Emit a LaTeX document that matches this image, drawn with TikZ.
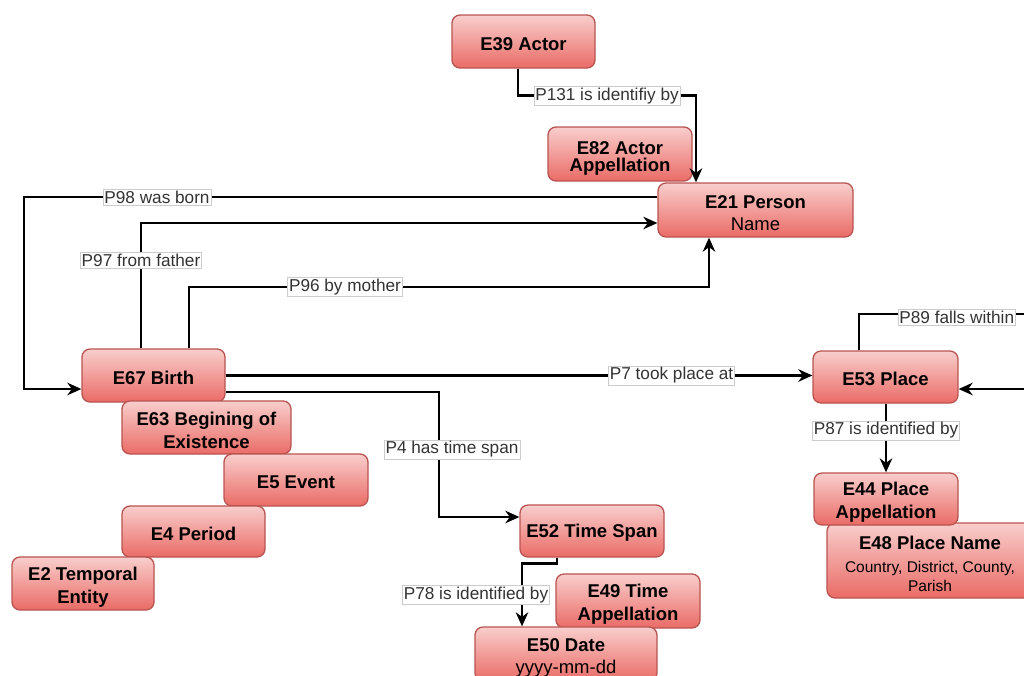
\documentclass[tikz,border=0pt]{standalone}
\usepackage{fontspec}
\setmainfont{Liberation Sans}
\usetikzlibrary{arrows.meta,calc}
\definecolor{etop}{RGB}{248,206,204}
\definecolor{ebot}{RGB}{234,107,102}
\definecolor{eline}{RGB}{184,84,80}
\newcommand\mytstrut{\rule{0pt}{20pt}}
\begin{document}
\begin{tikzpicture}[x=1pt,y=-1pt,
  ebox/.style={draw=eline, line width=1.3pt, rounded corners=8pt, top color=etop, bottom color=ebot,
    align=center, inner sep=0pt, font=\fontsize{18.5}{23}\selectfont\bfseries},
  onebox/.style={ebox, execute at begin node={\rule{0pt}{17.5pt}}},
  edge/.style={draw=black, line width=2.5pt, -{Stealth[length=14pt,width=12.5pt,inset=4.5pt]}},
  lbl/.style={fill=white, draw=black!20, line width=0.6pt, inner sep=1.5pt,
    font=\fontsize{17.2}{19}\selectfont, text=black!80}]
\useasboundingbox (0,0) rectangle (1024,675);
% nodes
\node[onebox, minimum width=143, minimum height=53] (e39) at (523.5,41.5) {E39 Actor};
\node[ebox, minimum width=144, minimum height=54] (e82) at (620,154) {\rule{0pt}{22pt}E82 Actor\\[-6pt]Appellation};
\node[ebox, minimum width=195, minimum height=54] (e21) at (755.5,210) {\mytstrut E21 Person\\[-1pt]{\mdseries Name}};
\node[onebox, minimum width=143, minimum height=53] (e67) at (153.5,375.5) {E67 Birth};
\node[ebox, minimum width=169, minimum height=53] (e63) at (206.5,427.5) {\mytstrut E63 Begining of\\Existence};
\node[onebox, minimum width=144, minimum height=52] (e5) at (296,480) {E5 Event};
\node[onebox, minimum width=143, minimum height=51] (e4) at (193.5,531.5) {E4 Period};
\node[ebox, minimum width=142, minimum height=53] (e2) at (83,583.5) {\mytstrut E2 Temporal\\Entity};
\node[onebox, minimum width=144, minimum height=52] (e52) at (592,531) {E52 Time Span};
\node[ebox, minimum width=144, minimum height=54] (e49) at (628,601) {\mytstrut E49 Time\\Appellation};
\node[ebox, minimum width=182, minimum height=54] (e50) at (566,654) {\mytstrut E50 Date\\[-1pt]{\mdseries yyyy-mm-dd}};
\node[onebox, minimum width=145, minimum height=52] (e53) at (885.5,377) {E53 Place};
\node[ebox, minimum width=206, minimum height=75] (e48) at (930,560.5) {\mytstrut E48 Place Name\\[0pt]{\mdseries\fontsize{15.5}{19}\selectfont Country, District, County,}\\[-4pt]{\mdseries\fontsize{15.5}{19}\selectfont Parish}};
\node[ebox, minimum width=144, minimum height=52] (e44) at (886,499) {\mytstrut E44 Place\\Appellation};
% helper corner coordinates
\coordinate (k98) at (24,389);
\coordinate (k96) at (709,287);
\coordinate (k4) at (439,517);
\coordinate (k89) at (1040,314);
% connectors
\draw[edge] ([xshift=-5.5]e39.south) -- ++(0,27) -| node[lbl,pos=0.25]{P131 is identifiy by} ([xshift=-59.5]e21.north);
\draw[edge] ([yshift=13]e21.west) -| node[lbl,pos=0.395]{P98 was born} (k98) -- ([yshift=-13.5]e67.west);
\draw[edge] ([xshift=-12.5]e67.north) |- node[lbl,pos=0.35]{P97 from father} ([yshift=-13]e21.west);
\draw[edge] ([xshift=35.5]e67.north) |- node[lbl,pos=0.65]{P96 by mother} (k96) -- ([xshift=-46.5]e21.south);
\draw[edge] (e67.east) -- node[lbl,pos=0.76]{P7 took place at} (e67.east -| e53.west);
\draw[edge] ([yshift=-16.5]e67.east) -| node[lbl,pos=0.73,xshift=13]{P4 has time span} (k4) -- ([yshift=14]e52.west);
\draw[edge] ([xshift=-35]e52.south) -- ++(0,6) -| node[lbl,pos=0.75,xshift=-46]{P78 is identified by} ([xshift=-44]e50.north);
\draw[edge] (e44.north |- e53.south) -- node[lbl,pos=0.39]{P87 is identified by} (e44.north);
\draw[edge] ([xshift=-26.5]e53.north) |- node[lbl,pos=0.77,yshift=-3]{P89 falls within} (k89) |- ([yshift=-12]e53.east);
\end{tikzpicture}
\end{document}
